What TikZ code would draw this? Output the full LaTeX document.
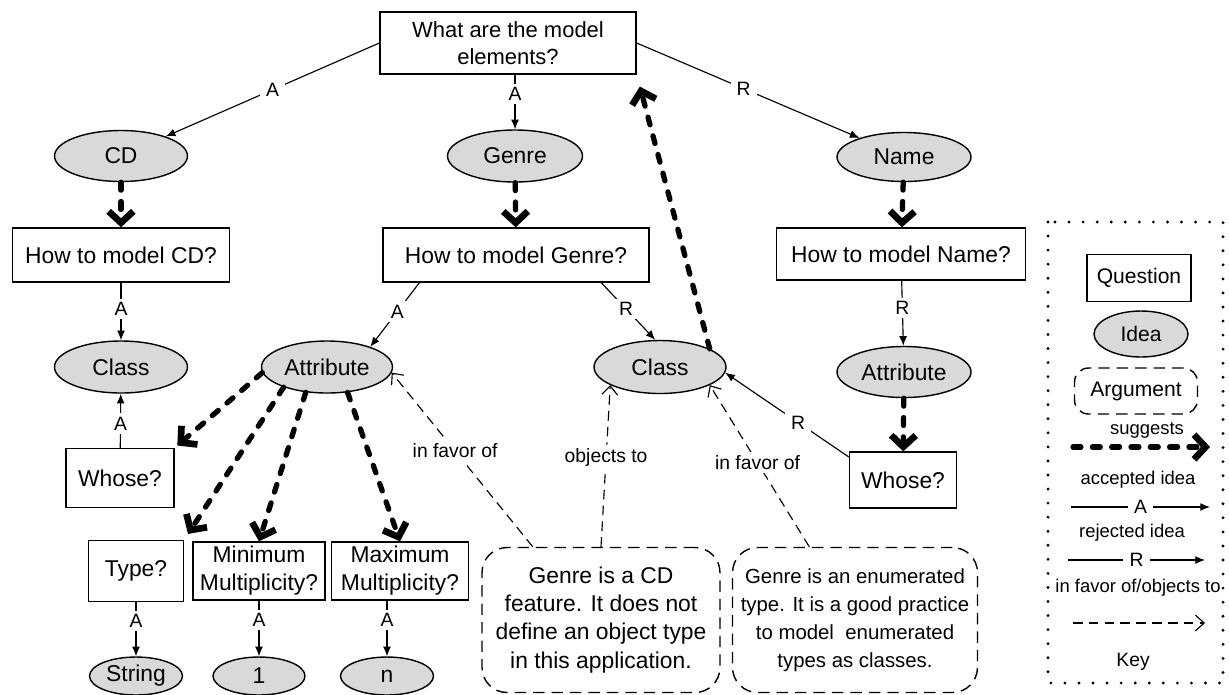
\documentclass[tikz,border=0pt]{standalone}
\usepackage{fontspec}
\setmainfont{Liberation Sans}
\usetikzlibrary{arrows.meta,shapes.geometric}

\tikzset{
  question/.style={draw, line width=0.8pt, inner sep=0pt, align=center, font=\fontsize{13}{16}\selectfont},
  idea/.style={draw, ellipse, fill=black!15, line width=0.8pt, inner sep=0pt, font=\fontsize{13}{16}\selectfont},
  argument/.style={draw, line width=0.8pt, dash pattern=on 6.5pt off 4pt, rounded corners=0.5cm, inner sep=0pt, align=center, font=\fontsize{13}{16}\selectfont},
  suggest/.style={line width=3pt, line cap=round, dash pattern=on 4.5pt off 6.5pt, -{Straight Barb[length=6.5pt,width=14pt,line width=3.8pt]}},
  link/.style={line width=0.65pt, -{Latex[length=5.5pt,width=4.5pt]}},
  favor/.style={line width=0.65pt, dash pattern=on 5.5pt off 3.5pt, -{Straight Barb[length=5pt,width=9pt]}},
  lbl/.style={fill=white, inner xsep=3.5pt, inner ysep=2pt, font=\fontsize{11}{12}\selectfont},
  keytext/.style={inner sep=1pt, font=\fontsize{10.5}{12}\selectfont},
}

\begin{document}
\begin{tikzpicture}[x=0.02cm, y=-0.02cm]
  \useasboundingbox (0,0) rectangle (1229,694);

  % Questions
  \node[question, minimum width=5.12cm, minimum height=1.24cm, font=\fontsize{12.5}{15}\selectfont] (top) at (508,43) {What are the model\\elements?};
  \node[question, minimum width=4.34cm, minimum height=1.08cm] (howcd) at (121,255) {How to model CD?};
  \node[question, minimum width=5.32cm, minimum height=1.08cm] (howgenre) at (516,255) {How to model Genre?};
  \node[question, minimum width=4.98cm, minimum height=1.04cm] (howname) at (901,254) {How to model Name?};
  \node[question, minimum width=2.16cm, minimum height=1.18cm] (whose1) at (120,478) {Whose?};
  \node[question, minimum width=2.14cm, minimum height=1.12cm] (whose2) at (903,480) {Whose?};
  \node[question, minimum width=1.9cm, minimum height=1.22cm] (type) at (136,571) {Type?};
  \node[question, minimum width=2.64cm, minimum height=1.16cm] (minm) at (259,571) {Minimum\\Multiplicity?};
  \node[question, minimum width=2.74cm, minimum height=1.16cm] (maxm) at (400,571) {Maximum\\Multiplicity?};

  % Ideas
  \node[idea, minimum width=2.66cm, minimum height=1.02cm] (cd) at (121,156) {CD};
  \node[idea, minimum width=2.7cm, minimum height=1.04cm] (genre) at (515,156) {Genre};
  \node[idea, minimum width=2.68cm, minimum height=0.98cm] (name) at (904,157) {Name};
  \node[idea, minimum width=2.66cm, minimum height=1.04cm] (class1) at (121,367) {Class};
  \node[idea, minimum width=2.62cm, minimum height=1.04cm] (attr1) at (327,367) {Attribute};
  \node[idea, minimum width=2.64cm, minimum height=1.06cm] (class2) at (660,367) {Class};
  \node[idea, minimum width=2.68cm, minimum height=1.02cm] (attr2) at (904,372) {Attribute};
  \node[idea, minimum width=1.86cm, minimum height=0.76cm] (string) at (136,676) {String};
  \node[idea, minimum width=1.84cm, minimum height=0.76cm] (one) at (259,676) {1};
  \node[idea, minimum width=1.86cm, minimum height=0.76cm] (n) at (387,676) {n};

  % Arguments
  \node[argument, minimum width=4.76cm, minimum height=2.9cm] (argL) at (601,620) {Genre is a CD\\feature. It does not\\define an object type\\in this application.};
  \node[argument, minimum width=4.9cm, minimum height=2.9cm, font=\fontsize{11.6}{16}\selectfont] (argR) at (855,620) {Genre is an enumerated\\type. It is a good practice\\to model~ enumerated\\types as classes.};

  % Accepted and rejected ideas
  \draw[link] (top.west) -- node[lbl] {A} (cd);
  \draw[link] (genre.north |- top.south) -- node[lbl, pos=.35] {A} (genre.north);
  \draw[link] (top.east) -- node[lbl, pos=.48] {R} (name);
  \draw[link] (howcd) -- node[lbl, pos=.46] {A} (class1);
  \draw[link] (whose1) -- node[lbl, pos=.45] {A} (class1);
  \draw[link] (howgenre.196) -- node[lbl, pos=.45] {A} (attr1.25);
  \draw[link] (howgenre.342) -- node[lbl, pos=.46] {R} (class2.100);
  \draw[link] (howname) -- node[lbl, pos=.42] {R} (attr2);
  \draw[link] (whose2.157) -- node[lbl, pos=.41] {R} (class2.355);
  \draw[link] (type) -- node[lbl, pos=.35] {A} (string);
  \draw[link] (minm) -- node[lbl, pos=.35] {A} (one);
  \draw[link] (maxm.south -| n.north) -- node[lbl, pos=.35] {A} (n.north);

  % Suggestions
  \draw[suggest] (cd) -- (howcd);
  \draw[suggest] (genre) -- (howgenre);
  \draw[suggest] (name) -- (howname);
  \draw[suggest] (attr2) -- (whose2);
  \draw[suggest, shorten >=2pt] (attr1.185) -- (whose1.north east);
  \draw[suggest, shorten >=4pt] (attr1.205) -- (type.north east);
  \draw[suggest] (attr1.230) -- (minm.north);
  \draw[suggest] (attr1.309) -- (maxm.north);
  \draw[suggest, shorten >=7pt] (class2.20) -- (top.south east);

  % In favor of / objects to
  \draw[favor] (argL.133) -- node[lbl, pos=.55] {in favor of} (attr1.355);
  \draw[favor] (argL.north) -- node[lbl, pos=.55] {objects to} (class2.200);
  \draw[favor] (argR.122) -- node[lbl, pos=.52] {in favor of} (class2.340);

  % Key
  \draw[line width=1.8pt, line cap=round, dash pattern=on 0pt off 8pt] (1048,222) rectangle (1223,683);
  \node[question, minimum width=2.08cm, minimum height=0.94cm, font=\fontsize{12}{14}\selectfont] (kq) at (1139,278) {Question};
  \node[idea, minimum width=1.88cm, minimum height=0.92cm, font=\fontsize{12}{14}\selectfont] (ki) at (1141,334) {Idea};
  \node[argument, minimum width=2.46cm, minimum height=0.92cm, rounded corners=0.28cm, font=\fontsize{12}{14}\selectfont] (ka) at (1136,391) {Argument};
  \node[keytext] (ks) at (1147,430) {suggests};
  \node[keytext] (kacc) at (1138,480) {accepted idea};
  \node[keytext] (krej) at (1132,533) {rejected idea};
  \node[keytext] (kfav) at (1138,588) {in favor of/objects to};
  \node[keytext, font=\fontsize{11}{13}\selectfont] (kkey) at (1133,662) {Key};
  \coordinate (s1) at (1073,447); \coordinate (s2) at (1210,447);
  \coordinate (a1) at (1071,507); \coordinate (a2) at (1210,507);
  \coordinate (r1) at (1068,560); \coordinate (r2) at (1205,560);
  \coordinate (f1) at (1073,623); \coordinate (f2) at (1205,623);
  \draw[suggest] (s1) -- (s2);
  \draw[link] (a1) -- node[lbl] {A} (a2);
  \draw[link] (r1) -- node[lbl] {R} (r2);
  \draw[favor] (f1) -- (f2);
\end{tikzpicture}
\end{document}
